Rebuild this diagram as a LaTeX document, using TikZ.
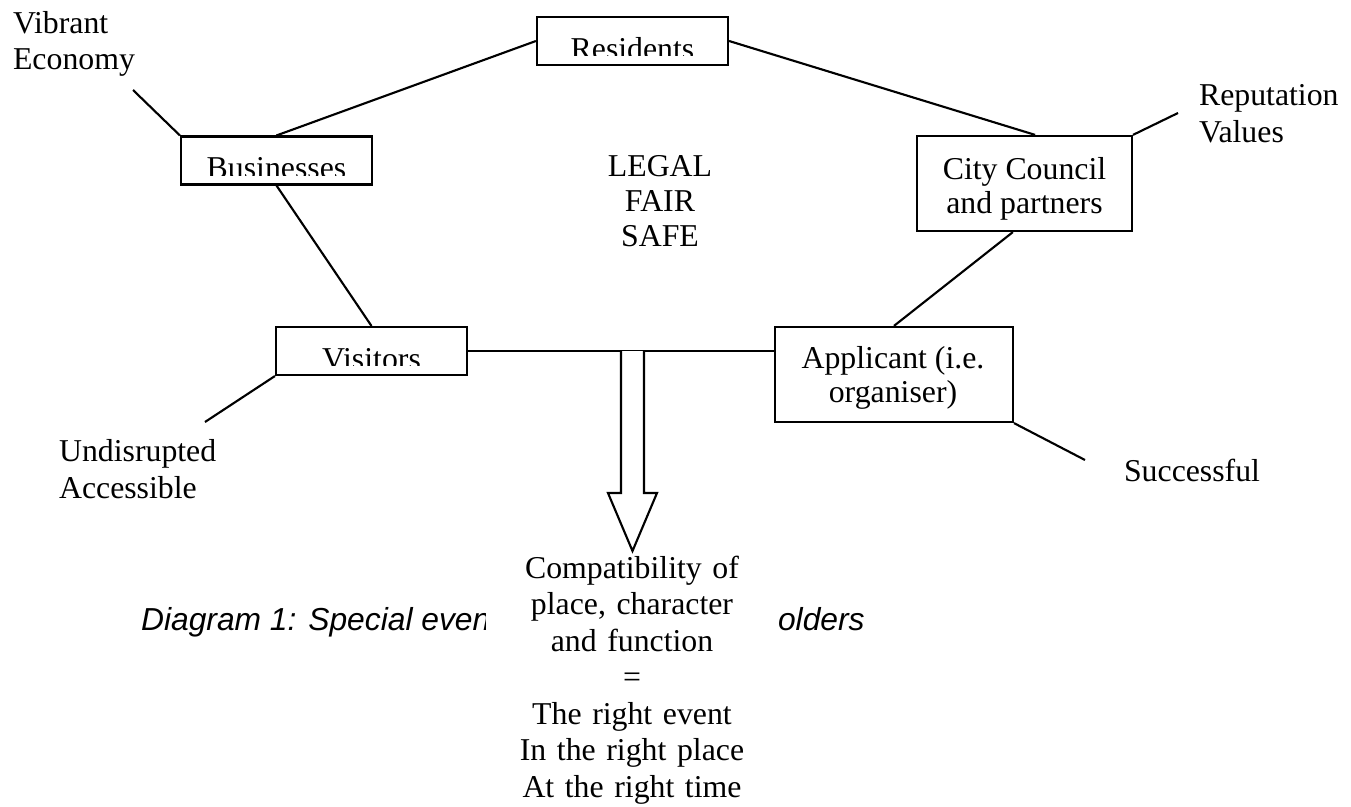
\documentclass[tikz,border=0pt]{standalone}
\usepackage{fontspec}
\setmainfont{Liberation Serif}
\setsansfont{Liberation Sans}
\usetikzlibrary{positioning,calc}
\newcommand{\cutlabel}[2]{%
  \begin{scope}
    \clip (#1.north west) rectangle ([yshift=3.8pt]#1.south east);
    \node[anchor=base,inner sep=0pt] at ([yshift=2.6pt]#1.south) {#2};
  \end{scope}}

\begin{document}
\begin{tikzpicture}[x=0.3774pt,y=-0.3774pt,line width=0.8pt,
    font=\fontsize{12}{13.8}\selectfont,
    box/.style={draw,inner sep=0pt},
    smallbox/.style={box,minimum width=72.1pt,minimum height=18.1pt},
    label/.style={inner sep=0pt,align=left,anchor=base west}]
  \useasboundingbox (0,0) rectangle (1351,807);
  % boxes
  \node[smallbox] (res) at (632.5,41) {};
  \node[smallbox] (bus) at (276.5,160.5) {};
  \node[smallbox] (vis) at (371.5,351) {};
  \node[box,minimum width=81.1pt,minimum height=35.9pt] (city) at (1024.5,183.5) {};
  \node[box,minimum width=89.8pt,minimum height=35.9pt] (app) at (894,374.5) {};
  \cutlabel{res}{Residents}
  \cutlabel{bus}{Businesses}
  \cutlabel{vis}{Visitors}
  \node[inner sep=0pt,align=center,anchor=base,font=\fontsize{12}{12.8}\selectfont]
    (citytxt) at (1024.5,213) {City Council\\and partners};
  \node[inner sep=0pt,align=center,anchor=base,font=\fontsize{12}{12.8}\selectfont]
    (apptxt) at (893,402) {Applicant (i.e.\\organiser)};
  % outer labels
  \node[label] (vib) at (12,70) {Vibrant\\Economy};
  \node[label] (rep) at (1198,142) {Reputation\\Values};
  \node[label] (und) at (58,498) {Undisrupted\\Accessible};
  \node[label] (suc) at (1123,481) {Successful};
  \node[inner sep=0pt,align=center,anchor=base,font=\fontsize{12}{13.2}\selectfont]
    (lfs) at (660,246) {LEGAL\\FAIR\\SAFE};
  \coordinate (ve) at (133,90);
  \coordinate (rv) at (1178,113);
  \coordinate (ua) at (205,422);
  \coordinate (sc) at (1085,460);
  % connectors
  \draw (res.west) -- (bus.north);
  \draw (res.east) -- ([xshift=4pt]city.north);
  \draw (bus.south) -- (vis.north);
  \draw (vis.east) -- (vis.east -| app.west);
  \draw ([xshift=-4.4pt]city.south) -- (app.north);
  \draw (ve) -- (bus.north west);
  \draw (city.north east) -- (rv);
  \draw (vis.south west) -- (ua);
  \draw (app.south east) -- (sc);
  % caption and result
  \node[label,font=\fontsize{12}{13.8}\sffamily\itshape] (cap) at (140,630) {Diagram 1: Special event};
  \node[label,font=\fontsize{12}{13.8}\sffamily\itshape] (cap2) at (777,630) {olders};
  \node[fill=white,inner xsep=0pt,inner ysep=2pt,text width=110.2pt,align=center,anchor=base]
    (res2) at (632,578) {Compatibility of\\place, character\\and function\\=\\The right event\\In the right place\\At the right time};
  \coordinate (arr) at (632.5,351);
  \draw[fill=white] (arr) ++(-11.5,0) --++(0,142) --++(-13,0) --++(24.5,58) --++(24.5,-58) --++(-13,0) --++(0,-142);
\end{tikzpicture}
\end{document}
